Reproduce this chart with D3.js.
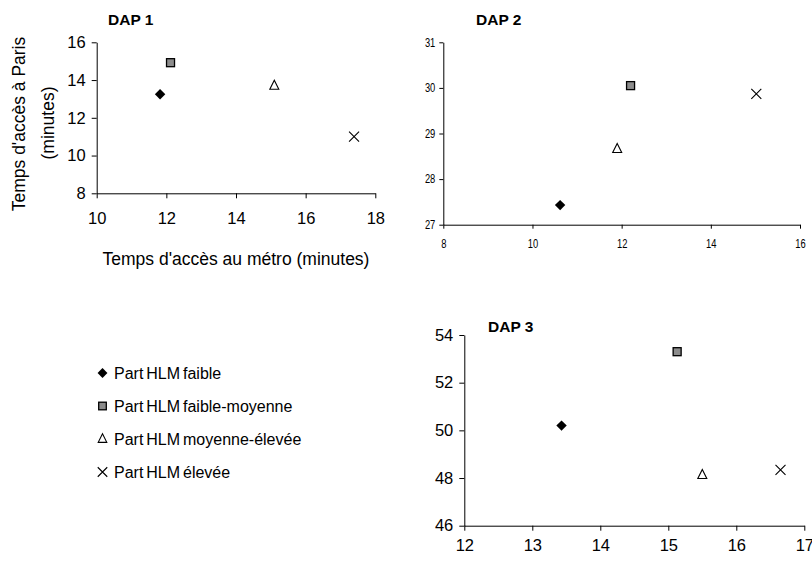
<!DOCTYPE html>
<html><head><meta charset="utf-8">
<script src="https://cdn.jsdelivr.net/npm/d3@7/dist/d3.min.js"></script>
<style>
body{margin:0;background:#fff;}
svg{font-family:"Liberation Sans",Arial,sans-serif;}
</style></head>
<body><svg id="c" width="812" height="565"></svg>
<script>
const seriesNames = ["Part HLM faible","Part HLM faible-moyenne","Part HLM moyenne-élevée","Part HLM élevée"];
const seriesShapes = ["diamond","square","triangle","cross"];
// DAP 1
const dap1X = [11.82, 12.12, 15.1, 17.39];
const dap1Y = [13.25, 14.92, 13.7, 11.0];
const dap1XTicks = [10,12,14,16,18];
const dap1YTicks = [8,10,12,14,16];
// DAP 2
const dap2X = [10.62, 12.2, 11.9, 15.02];
const dap2Y = [27.43, 30.05, 28.66, 29.87];
const dap2XTicks = [8,10,12,14,16];
const dap2YTicks = [27,28,29,30,31];
// DAP 3
const dap3X = [13.43, 15.13, 15.5, 16.65];
const dap3Y = [50.2, 53.3, 48.13, 48.34];
const dap3XTicks = [12,13,14,15,16,17];
const dap3YTicks = [46,48,50,52,54];

const svg = d3.select("#c");

function marker(g, shape, x, y, s){
  s = s||1;
  if(shape==="diamond"){
    g.append("path").attr("d",`M${x},${y-5.2*s}L${x+5.2*s},${y}L${x},${y+5.2*s}L${x-5.2*s},${y}Z`).attr("fill","#000");
  } else if(shape==="square"){
    g.append("rect").attr("x",x-4*s).attr("y",y-4*s).attr("width",8*s).attr("height",8*s)
      .attr("fill","#8c8c8c").attr("stroke","#000").attr("stroke-width",1.3);
  } else if(shape==="triangle"){
    g.append("path").attr("d",`M${x},${y-5.5*s}L${x+4.5*s},${y+3.5*s}L${x-4.5*s},${y+3.5*s}Z`)
      .attr("fill","#fff").attr("stroke","#000").attr("stroke-width",1.1);
  } else {
    g.append("path").attr("d",`M${x-5*s},${y-5*s}L${x+5*s},${y+5*s}M${x+5*s},${y-5*s}L${x-5*s},${y+5*s}`)
      .attr("stroke","#000").attr("stroke-width",1.1).attr("fill","none");
  }
}

function panel(cfg){
  const x = d3.scaleLinear().domain(d3.extent(cfg.xt)).range(cfg.xr);
  const y = d3.scaleLinear().domain(d3.extent(cfg.yt)).range(cfg.yr);
  const g = svg.append("g");
  const xa = g.append("g").attr("transform",`translate(0,${cfg.yr[0]})`)
    .call(d3.axisBottom(x).tickValues(cfg.xt).tickSize(cfg.ts).tickPadding(cfg.xpad).tickSizeOuter(0).tickFormat(d3.format("d")));
  const ya = g.append("g").attr("transform",`translate(${cfg.xr[0]},0)`)
    .call(d3.axisLeft(y).tickValues(cfg.yt).tickSize(cfg.ts).tickPadding(cfg.ypad).tickSizeOuter(0).tickFormat(d3.format("d")));
  [xa,ya].forEach(a=>{
    a.selectAll("path,line").attr("stroke","#000");
    a.selectAll("text").attr("font-size",cfg.fs).attr("fill","#000").attr("font-family","Liberation Sans, Arial, sans-serif");
    if(cfg.squeeze){
      a.selectAll("text").each(function(){
        const w = this.getComputedTextLength();
        d3.select(this).attr("textLength", w*cfg.squeeze).attr("lengthAdjust","spacingAndGlyphs");
      });
    }
  });
  cfg.xs.forEach((v,i)=>marker(g, seriesShapes[i], x(v), y(cfg.ys[i])));
  g.append("text").attr("x",cfg.tx).attr("y",cfg.ty).attr("font-weight","bold").attr("font-size",15.5).text(cfg.title);
  return {x,y,g};
}

panel({xt:dap1XTicks, yt:dap1YTicks, xs:dap1X, ys:dap1Y, xr:[96.7,375.3], yr:[193.3,42.3], ts:5, xpad:14, ypad:6, fs:16.5, title:"DAP 1", tx:108, ty:25});
panel({xt:dap2XTicks, yt:dap2YTicks, xs:dap2X, ys:dap2Y, xr:[443.3,800], yr:[224.7,42.3], ts:4, xpad:11, ypad:4, fs:12, squeeze:0.78, title:"DAP 2", tx:476, ty:25});
panel({xt:dap3XTicks, yt:dap3YTicks, xs:dap3X, ys:dap3Y, xr:[464.3,804.3], yr:[525.7,335], ts:5, xpad:9, ypad:6, fs:16.5, title:"DAP 3", tx:488, ty:332});

// axis titles for DAP 1
svg.append("text").attr("x",236).attr("y",265).attr("text-anchor","middle").attr("font-size",17.5).text("Temps d'accès au métro (minutes)");
svg.append("text").attr("transform","translate(25,124) rotate(-90)").attr("text-anchor","middle").attr("font-size",17.5).text("Temps d'accès à Paris");
svg.append("text").attr("transform","translate(54,123) rotate(-90)").attr("text-anchor","middle").attr("font-size",17.5).text("(minutes)");

// legend
const lg = svg.append("g");
seriesNames.forEach((n,i)=>{
  const cy = 373 + i*33;
  marker(lg, seriesShapes[i], 102.5, cy, 0.95);
  lg.append("text").attr("x",114).attr("y",cy+6).attr("font-size",16).attr("word-spacing","-1.5px").text(n);
});
</script></body></html>
